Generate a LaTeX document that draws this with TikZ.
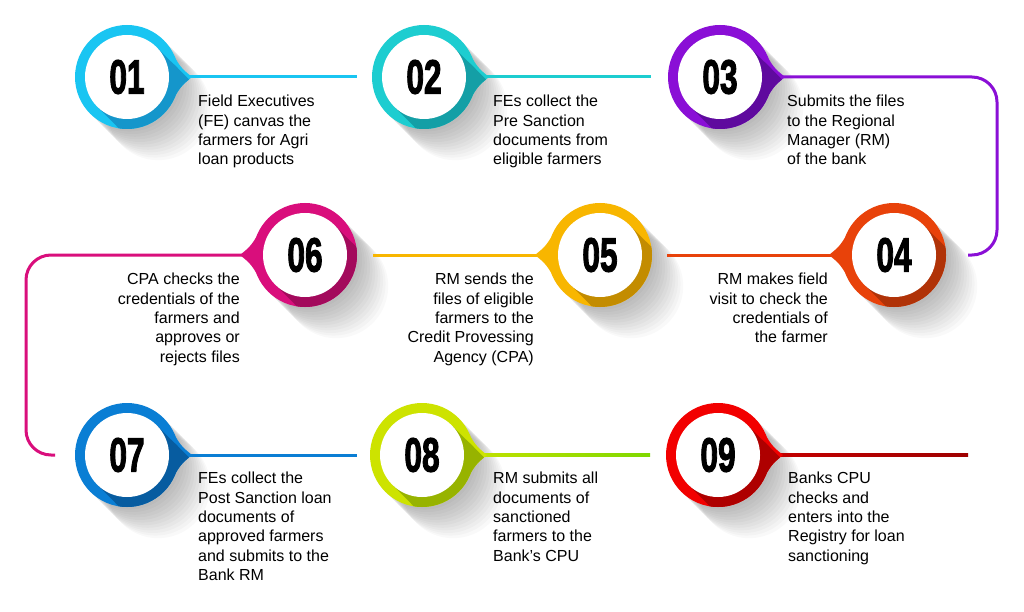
\documentclass[tikz,border=0pt]{standalone}
\usepackage{fontspec}
\usepackage{graphicx}
\setmainfont{Liberation Sans}
\newfontfamily\numfont{Liberation Sans Bold}[FakeBold=2.6]
\usetikzlibrary{calc}
\definecolor{cA}{HTML}{19C5F2}\definecolor{dA}{HTML}{1596CB}
\definecolor{cB}{HTML}{1DCDD0}\definecolor{dB}{HTML}{149FA6}
\definecolor{cC}{HTML}{8A0FD6}\definecolor{dC}{HTML}{5F0A9E}
\definecolor{cD}{HTML}{E8420A}\definecolor{dD}{HTML}{B03308}
\definecolor{cE}{HTML}{F8B600}\definecolor{dE}{HTML}{C38C00}
\definecolor{cF}{HTML}{D90E7C}\definecolor{dF}{HTML}{A30A5C}
\definecolor{cG}{HTML}{0A7ED4}\definecolor{dG}{HTML}{075CA0}
\definecolor{cH}{HTML}{CDE300}\definecolor{dH}{HTML}{97B300}
\definecolor{cI}{HTML}{F20000}\definecolor{dI}{HTML}{AE0000}
\definecolor{lH}{HTML}{7FD800}\definecolor{lI}{HTML}{9E0000}
\newcommand\descfont{\fontsize{16}{19.4}\selectfont}
\newcommand\StepShadow[2]{%
  \begin{scope}[shift={(#1,#2)}]
    \foreach \k in {1,...,12} \fill[black,opacity=0.024] (\k*2.6,\k*2.6) circle (52);
  \end{scope}}
% #1 name, #2 cx, #3 cy, #4 bright, #5 dark, #6 side (1 right / -1 left), #7 label
\newcommand\StepDisc[7]{%
  \begin{scope}[shift={(#2,#3)}]
    \fill[#4] (0,0) circle (52);
    \fill[#4,xscale=#6] (-30:51) .. controls (54,-9) .. (65,0) .. controls (54,9) .. (30:51) -- cycle;
    \begin{scope}
      \clip (0,0) circle (52);
      \fill[#5] (29.7,-29.7) -- (140,80) -- (80,140) -- (-29.7,29.7) -- cycle;
    \end{scope}
    \begin{scope}
      \clip[xscale=#6] (-30:51) .. controls (54,-9) .. (65,0) .. controls (54,9) .. (30:51) -- cycle;
      \fill[#5] (29.7,-29.7) -- (140,80) -- (80,140) -- (-29.7,29.7) -- cycle;
    \end{scope}
    \node[numdisc] (#1) at (0,0) {\scalebox{0.66}[1]{#7}};
  \end{scope}}
\tikzset{
  numdisc/.style={circle,fill=white,minimum size=84pt,inner sep=0pt,
    font=\numfont\fontsize{48}{48}\selectfont,text=black},
  desc/.style={font=\descfont,inner sep=0pt,text=black},
  descL/.style={desc,anchor=north west,align=left},
  descR/.style={desc,anchor=north east,align=right},
  link/.style={line width=3pt,rounded corners=25pt}
}
\begin{document}
\begin{tikzpicture}[x=1pt,y=-1pt]
\useasboundingbox (0,0) rectangle (1024,612);
\fill[white] (0,0) rectangle (1024,612);

% shadows
\StepShadow{127}{77}
\StepShadow{424}{77}
\StepShadow{720}{77}
\StepShadow{894}{255}
\StepShadow{600}{255}
\StepShadow{305}{255}
\StepShadow{127}{455}
\StepShadow{422}{455}
\StepShadow{718}{455}

% connector coordinates
\coordinate (p1) at (190,77);  \coordinate (e1) at (357,77);
\coordinate (p2) at (487,77);  \coordinate (e2) at (651,77);
\coordinate (p3) at (783,77);  \coordinate (k3) at (997,77);
\coordinate (k3b) at (997,255); \coordinate (e3) at (968,255);
\coordinate (p4) at (831,255); \coordinate (e4) at (667,255);
\coordinate (p5) at (537,255); \coordinate (e5) at (373,255);
\coordinate (p6) at (242,255); \coordinate (k6) at (26,255);
\coordinate (k6b) at (26,455); \coordinate (e6) at (55,455);
\coordinate (p7) at (190,455); \coordinate (e7) at (357,455);
\coordinate (p8) at (485,455); \coordinate (e8) at (650,455);
\coordinate (p9) at (781,455); \coordinate (e9) at (968,455);

\draw[link,cA] (p1) -- (e1);
\draw[link,cB] (p2) -- (e2);
\draw[link,cC] (p3) -- (k3) -- (k3b) -- (e3);
\draw[link,cD] (p4) -- (e4);
\draw[link,cE] (p5) -- (e5);
\draw[link,cF] (p6) -- (k6) -- (k6b) -- (e6);
\draw[link,cG] (p7) -- (e7);
\shade[left color=cH!80!lH,right color=lH] ($(p8)+(0,-1.5)$) rectangle ($(e8)+(0,1.5)$);
\shade[left color=dI!70!cI,right color=lI] ($(p9)+(0,-1.5)$) rectangle ($(e9)+(0,1.5)$);

% discs
\StepDisc{s1}{127}{77}{cA}{dA}{1}{01}
\StepDisc{s2}{424}{77}{cB}{dB}{1}{02}
\StepDisc{s3}{720}{77}{cC}{dC}{1}{03}
\StepDisc{s4}{894}{255}{cD}{dD}{-1}{04}
\StepDisc{s5}{600}{255}{cE}{dE}{-1}{05}
\StepDisc{s6}{305}{255}{cF}{dF}{-1}{06}
\StepDisc{s7}{127}{455}{cG}{dG}{1}{07}
\StepDisc{s8}{422}{455}{cH}{dH}{1}{08}
\StepDisc{s9}{718}{455}{cI}{dI}{1}{09}

% texts
\node[descL] (t1) at (198,95) {Field Executives\\(FE) canvas the\\farmers for Agri\\loan products};
\node[descL] (t2) at (493,95) {FEs collect the\\Pre Sanction\\documents from\\eligible farmers};
\node[descL] (t3) at (787,95) {Submits the files\\to the Regional\\Manager (RM)\\of the bank};
\node[descR] (t4) at (828,273) {RM makes field\\visit to check the\\credentials of\\the farmer};
\node[descR] (t5) at (534,273) {RM sends the\\files of eligible\\farmers to the\\Credit Provessing\\Agency (CPA)};
\node[descR] (t6) at (240,273) {CPA checks the\\credentials of the\\farmers and\\approves or\\rejects files};
\node[descL] (t7) at (198,472) {FEs collect the\\Post Sanction loan\\documents of\\approved farmers\\and submits to the\\Bank RM};
\node[descL] (t8) at (493,472) {RM submits all\\documents of\\sanctioned\\farmers to the\\Bank’s CPU};
\node[descL] (t9) at (788,472) {Banks CPU\\checks and\\enters into the\\Registry for loan\\sanctioning};
\end{tikzpicture}
\end{document}
